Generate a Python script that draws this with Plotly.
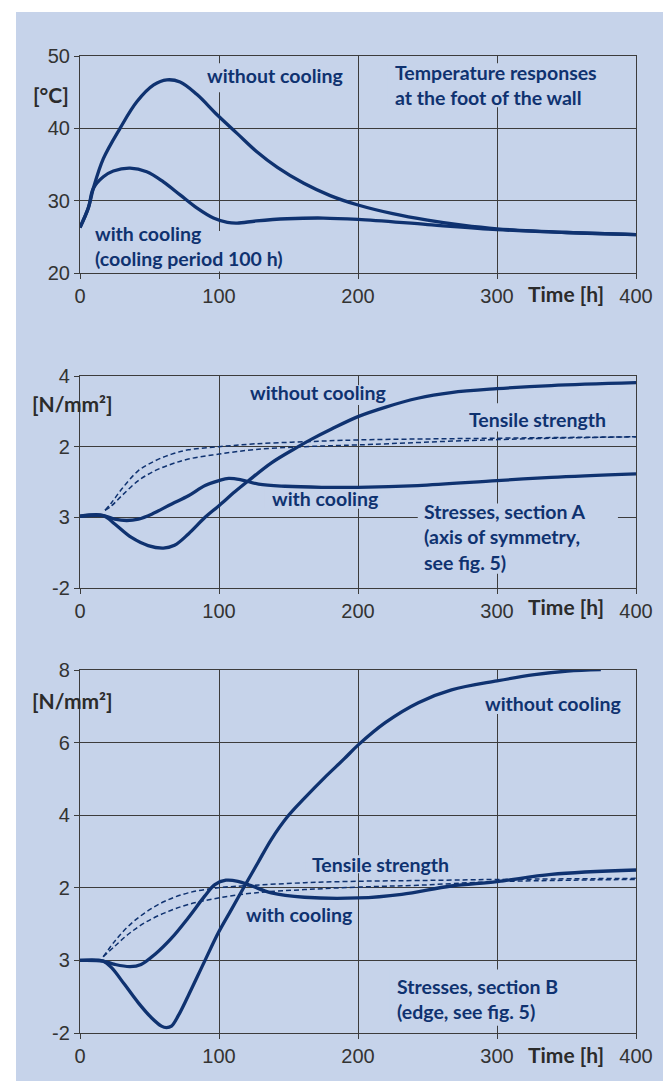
import plotly.graph_objects as go
from plotly.subplots import make_subplots

# ---------------- data ----------------
# Panel 1: temperature responses at the foot of the wall [°C]
t_temp_nc = [0, 6, 9.6, 16.8, 28.8, 41, 53, 62.5, 72, 84, 99, 113, 127, 142, 161, 180, 200, 225, 250, 275, 300, 350, 400]
temp_nc = [26.3, 29.0, 31.7, 35.8, 40.0, 43.7, 46.0, 46.7, 46.4, 44.7, 41.8, 39.3, 36.8, 34.6, 32.4, 30.7, 29.4, 28.2, 27.3, 26.6, 26.1, 25.6, 25.3]
t_temp_c = [0, 6, 9.6, 16.8, 24, 36, 48, 60, 72, 84, 96, 106, 113, 127, 149, 175, 200, 250, 300, 350, 400]
temp_c = [26.3, 29.0, 31.7, 33.3, 34.1, 34.5, 34.0, 32.6, 30.8, 29.0, 27.6, 27.0, 26.9, 27.2, 27.5, 27.6, 27.4, 26.7, 26.0, 25.6, 25.3]

# Panel 2: stresses, section A [N/mm²]
t_a_nc = [0, 16.8, 25, 37, 49, 60, 68, 78, 90, 100, 111.6, 121, 138, 157, 167, 181, 200, 220, 243, 267, 300, 339, 400]
a_nc = [0.03, 0.05, -0.19, -0.57, -0.80, -0.87, -0.79, -0.47, 0.0, 0.33, 0.73, 1.03, 1.55, 2.00, 2.22, 2.50, 2.85, 3.12, 3.37, 3.53, 3.64, 3.73, 3.81]
t_a_c = [0, 16.8, 25, 33.6, 42, 51.6, 66, 78, 90, 100, 107, 116, 128.5, 147.6, 174, 200, 243, 300, 339, 400]
a_c = [0.03, 0.05, -0.05, -0.09, -0.05, 0.09, 0.38, 0.61, 0.90, 1.04, 1.10, 1.06, 0.94, 0.88, 0.85, 0.85, 0.90, 1.04, 1.13, 1.23]
t_ts_a = [18, 22.8, 30, 42, 54, 66, 78, 100, 126, 162, 200, 300, 400]
ts_a_upper = [0.2, 0.42, 0.80, 1.32, 1.60, 1.79, 1.91, 2.00, 2.08, 2.14, 2.19, 2.24, 2.28]
ts_a_lower = [0.2, 0.33, 0.61, 1.04, 1.32, 1.51, 1.65, 1.79, 1.92, 2.00, 2.05, 2.20, 2.28]

# Panel 3: stresses, section B [N/mm²]
t_b_nc = [0, 16.7, 22.7, 32, 42, 51.4, 58.6, 62.2, 65.8, 70.6, 77.8, 89.7, 99.5, 108.9, 118.4, 128, 137.6, 149.5, 161.5, 175.8, 190, 200, 219.6, 243.4, 267.3, 300, 327, 350.8, 374.7]
b_nc = [0.0, -0.02, -0.2, -0.66, -1.17, -1.58, -1.81, -1.85, -1.81, -1.53, -0.98, -0.02, 0.76, 1.40, 2.05, 2.69, 3.33, 3.97, 4.47, 5.03, 5.55, 5.93, 6.55, 7.10, 7.45, 7.70, 7.87, 7.97, 8.01]
t_b_c = [0, 16.7, 25, 36, 44, 54, 66, 77.8, 89.7, 97, 105, 113.6, 123, 137.6, 161.5, 200, 231.5, 267, 300, 339, 400]
b_c = [0.0, -0.02, -0.11, -0.17, -0.11, 0.17, 0.62, 1.17, 1.77, 2.09, 2.21, 2.18, 2.06, 1.86, 1.74, 1.72, 1.82, 2.05, 2.17, 2.37, 2.49]
t_ts_b = [16.7, 25, 34.7, 46.7, 61, 77.8, 99.5, 125.6, 161.5, 200, 243, 300, 400]
ts_b_upper = [0.1, 0.53, 0.94, 1.31, 1.63, 1.86, 2.00, 2.07, 2.14, 2.18, 2.20, 2.23, 2.26]
ts_b_lower = [0.1, 0.39, 0.72, 1.04, 1.31, 1.54, 1.72, 1.86, 1.95, 2.02, 2.07, 2.17, 2.23]

x_ticks = [0, 100, 200, 300, 400]
y1_ticks = [20, 30, 40, 50]
y1_labels = ["20", "30", "40", "50"]
y2_ticks = [-2, 0, 2, 4]
y2_labels = ["-2", "3", "2", "4"]
y3_ticks = [-2, 0, 2, 4, 6, 8]
y3_labels = ["-2", "3", "2", "4", "6", "8"]

# ---------------- style ----------------
BG = "#c6d3ea"
NAVY = "#0f3270"
GRID = "#3c3c3c"
TICKC = "#333333"
ANN_FONT = dict(family="Lato, 'Open Sans', sans-serif", size=19.5, color=NAVY, weight="bold")
LAB_FONT = dict(family="Lato, 'Open Sans', sans-serif", size=21, color="#2b2b2b", weight="bold")

W, H = 671, 1081
OFF = 8  # page body margin
PL, PR = 80, 636          # plot area left/right in page pixels
ML, MR = PL - OFF, W - (PR - OFF)
MT, MB = 56 - OFF, H - (1033 - OFF)
ph = H - MT - MB

def dom(top, bottom):
    top -= OFF
    bottom -= OFF
    return [(H - MB - bottom) / ph, (H - MB - top) / ph]

fig = make_subplots(rows=3, cols=1)

def solid(x, y, row):
    fig.add_trace(go.Scatter(x=x, y=y, mode="lines", line=dict(color=NAVY, width=3.3, shape="spline", smoothing=1.0),
                             showlegend=False, hoverinfo="skip"), row=row, col=1)

def dashed(x, y, row):
    fig.add_trace(go.Scatter(x=x, y=y, mode="lines", line=dict(color=NAVY, width=1.5, dash="5px,3px", shape="spline", smoothing=1.0),
                             showlegend=False, hoverinfo="skip"), row=row, col=1)

solid(t_temp_nc, temp_nc, 1)
solid(t_temp_c, temp_c, 1)
dashed(t_ts_a, ts_a_upper, 2)
dashed(t_ts_a, ts_a_lower, 2)
solid(t_a_nc, a_nc, 2)
solid(t_a_c, a_c, 2)
dashed(t_ts_b, ts_b_upper, 3)
dashed(t_ts_b, ts_b_lower, 3)
solid(t_b_nc, b_nc, 3)
solid(t_b_c, b_c, 3)

axis_common = dict(showgrid=True, gridcolor=GRID, gridwidth=1.2, showline=True, linecolor=GRID, linewidth=1.2,
                   mirror=True, ticks="outside", ticklen=5, tickcolor=GRID, zeroline=False,
                   tickfont=dict(family="'Liberation Sans', Arial, sans-serif", size=20, color=TICKC))

domains = [dom(56, 273), dom(376, 588), dom(670, 1033)]
yranges = [[20, 50], [-2, 4], [-2, 8]]
yspecs = [(y1_ticks, y1_labels), (y2_ticks, y2_labels), (y3_ticks, y3_labels)]
for i in range(3):
    fig.update_xaxes(row=i + 1, col=1, range=[0, 400], tickvals=x_ticks, ticktext=[str(v) for v in x_ticks], **axis_common)
    tv, tt = yspecs[i]
    fig.update_yaxes(row=i + 1, col=1, range=yranges[i], tickvals=tv, ticktext=tt, domain=domains[i], **axis_common)

def ann(text, x, y, row, font=ANN_FONT):
    sfx = "" if row == 1 else str(row)
    lo, hi = yranges[row - 1]
    fig.add_annotation(text=text, x=x / 400, y=(y - lo) / (hi - lo),
                       xref=f"x{sfx} domain", yref=f"y{sfx} domain", xanchor="left", yanchor="middle",
                       align="left", showarrow=False, font=font)

def mask(row, x0, x1, y0, y1):
    sfx = "" if row == 1 else str(row)
    fig.add_shape(type="rect", xref=f"x{sfx}", yref=f"y{sfx}", x0=x0, x1=x1, y0=y0, y1=y1,
                  fillcolor=BG, line=dict(width=0), layer="between")

# gridline gaps behind the labels (as in the original)
mask(1, 86, 190, 45.0, 49.0)
mask(1, 221, 378, 42.9, 49.0)
mask(1, 5, 150, 20.2, 25.8)
mask(2, 117, 220, 3.18, 3.74)
mask(2, 274, 380, 2.43, 3.23)
mask(2, 133, 216, 0.24, 0.81)
mask(2, 243, 387, -1.6, 0.39)
mask(3, 287, 390, 6.79, 7.70)
mask(3, 162, 268, 2.40, 2.90)
mask(3, 223, 345, -1.8, -0.25)

# Panel 1
ann("without cooling", 89.8, 47.25, 1)
ann("Temperature responses<br>at the foot of the wall", 225, 46.0, 1)
ann("with cooling<br>(cooling period 100 h)", 9.1, 23.7, 1)
ann("[°C]", -35, 44.7, 1, LAB_FONT)
ann("Time [h]", 321, 17.2, 1, LAB_FONT)
# Panel 2
ann("without cooling", 121, 3.53, 2)
ann("Tensile strength", 278.5, 2.77, 2)
ann("with cooling", 137, 0.52, 2)
ann("Stresses, section A<br>(axis of symmetry,<br>see fig. 5)", 246, -0.56, 2)
ann("[N/mm²]", -36, 3.23, 2, LAB_FONT)
ann("Time [h]", 321, -2.52, 2, LAB_FONT)
# Panel 3
ann("without cooling", 290, 7.09, 3)
ann("Tensile strength", 165.8, 2.64, 3)
ann("with cooling", 118, 1.27, 3)
ann("Stresses, section B<br>(edge, see fig. 5)", 226.6, -1.07, 3)
ann("[N/mm²]", -36, 7.15, 3, LAB_FONT)
ann("Time [h]", 321, -2.58, 3, LAB_FONT)

pw = W - ML - MR
fig.add_shape(type="rect", xref="paper", yref="paper",
              x0=(16 - OFF - ML) / pw, x1=(W - ML) / pw + 0.02,
              y0=-MB / ph - 0.01, y1=(H - MB - (12 - OFF)) / ph,
              fillcolor=BG, line=dict(width=0), layer="below")

fig.update_layout(width=W, height=H, margin=dict(l=ML, r=MR, t=MT, b=MB),
                  paper_bgcolor="white", plot_bgcolor="rgba(0,0,0,0)", showlegend=False)

fig.write_html("out.html")
